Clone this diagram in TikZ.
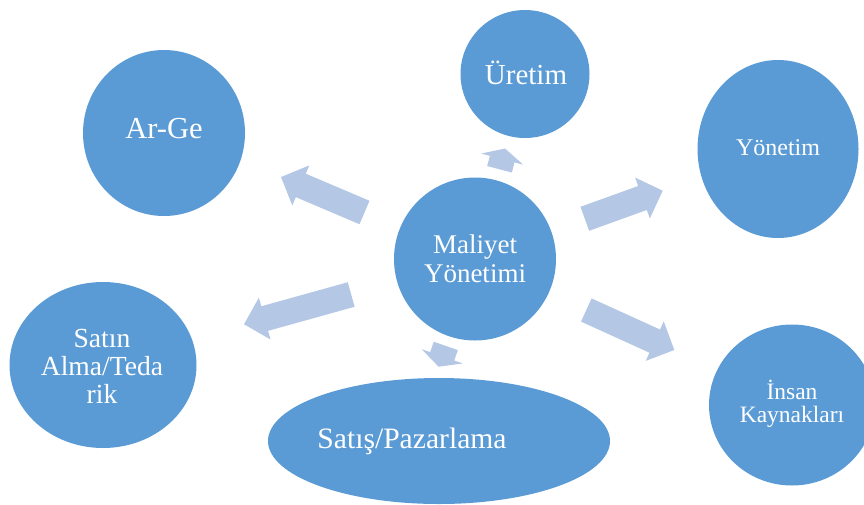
\documentclass[tikz,border=0pt]{standalone}
\usepackage{fontspec}
\setmainfont{Liberation Serif}
\usetikzlibrary{calc,shapes.geometric}
\definecolor{circfill}{HTML}{5B9BD5}
\definecolor{arrfill}{HTML}{B4C8E6}
\tikzset{
  circ/.style={ellipse,fill=circfill,draw=none,inner sep=0pt},
  txt/.style={text=white,align=center,inner sep=0pt},
  arrowfill/.style={fill=arrfill,draw=none}
}
\newcommand\blockarrow[5]{%
  \path ($(#2)!#5!(#1)$) coordinate (#1-hb);
  \fill[arrowfill] ($(#1)!#3!90:(#2)$) -- ($(#1-hb)!#3!90:(#2)$) -- ($(#1-hb)!#4!90:(#2)$) -- (#2)
    -- ($(#1-hb)!#4!-90:(#2)$) -- ($(#1-hb)!#3!-90:(#2)$) -- ($(#1)!#3!-90:(#2)$) -- cycle;
}
\begin{document}
\begin{tikzpicture}[x=1pt,y=-1pt]
\useasboundingbox (0,0) rectangle (864,504);
\clip (0,0) rectangle (864,504);
% arrows
\coordinate (a1t) at (364.5,212.5); \coordinate (a1h) at (281,177);
\coordinate (a2t) at (499.5,169.3); \coordinate (a2h) at (505,148.5);
\coordinate (a3t) at (584.8,218.8); \coordinate (a3h) at (662.7,190.7);
\coordinate (a4t) at (351.2,294.5); \coordinate (a4h) at (244,324.3);
\coordinate (a5t) at (445.8,345.9); \coordinate (a5h) at (438.6,366.7);
\coordinate (a6t) at (586.3,310);   \coordinate (a6h) at (674.3,350);
\blockarrow{a1t}{a1h}{12.75pt}{21.75pt}{21.5pt}
\blockarrow{a2t}{a2h}{12.75pt}{21.75pt}{11pt}
\blockarrow{a3t}{a3h}{12.75pt}{21.75pt}{21.5pt}
\blockarrow{a4t}{a4h}{12.75pt}{21.75pt}{21.5pt}
\blockarrow{a5t}{a5h}{12.75pt}{21.75pt}{11pt}
\blockarrow{a6t}{a6h}{12.75pt}{21.75pt}{21.5pt}
% circles
\node[circ,minimum width=162pt,minimum height=166pt] (arge) at (164,133) {};
\node[circ,minimum width=129pt,minimum height=128pt] (uretim) at (525,74) {};
\node[circ,minimum width=161pt,minimum height=178pt] (yonetim) at (778,149) {};
\node[circ,minimum width=162pt,minimum height=163pt] (maliyet) at (475,259) {};
\node[circ,minimum width=187pt,minimum height=166pt] (satin) at (103,365) {};
\node[circ,minimum width=342pt,minimum height=126pt] (satis) at (439,441) {};
\node[circ,minimum width=166pt,minimum height=161pt] (insan) at (792,405) {};
% texts
\node[txt,font=\fontsize{30.5}{32}\selectfont] (targe) at (164,129) {Ar-Ge};
\node[txt,font=\fontsize{29}{31}\selectfont] (turetim) at (526,73) {Üretim};
\node[txt,font=\fontsize{24}{26}\selectfont] (tyonetim) at (778,148) {Yönetim};
\node[txt,font=\fontsize{27}{29}\selectfont] (tmaliyet) at (475,259) {Maliyet\\Yönetimi};
\node[txt,font=\fontsize{27.6}{28}\selectfont] (tsatin) at (102,366) {Satın\\Alma/Teda\\rik};
\node[txt,font=\fontsize{29.6}{31}\selectfont] (tsatis) at (412,441) {Satış/Pazarlama};
\node[txt,font=\fontsize{23.5}{23.3}\selectfont] (tinsan) at (792,404) {İnsan\\Kaynakları};
\end{tikzpicture}
\end{document}
